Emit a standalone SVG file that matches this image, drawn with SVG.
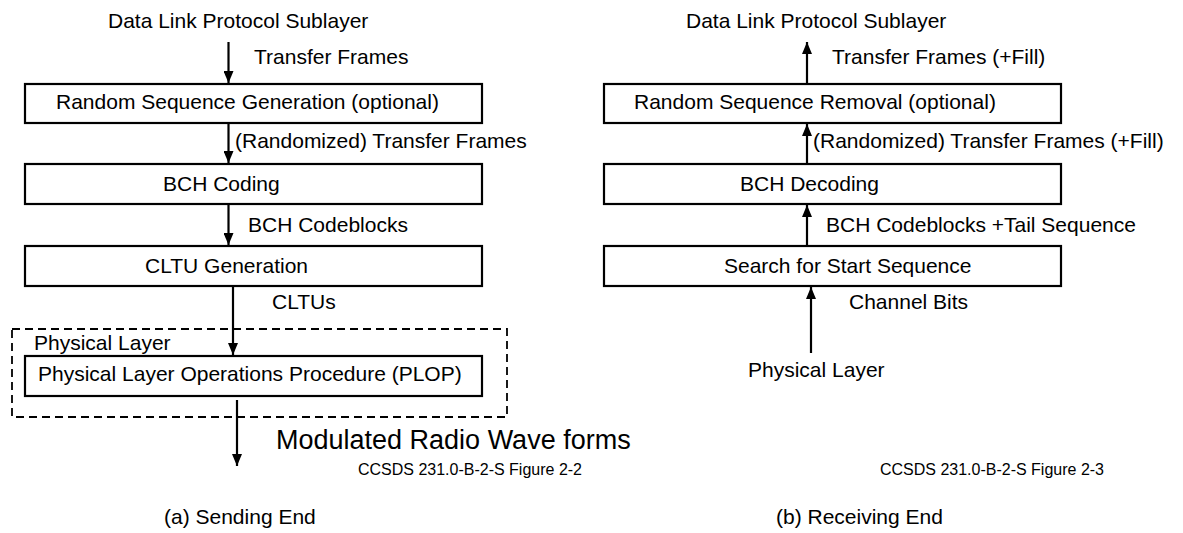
<svg xmlns="http://www.w3.org/2000/svg" width="1183" height="533" viewBox="0 0 1183 533">
  <style>
    text { font-family: "Liberation Sans", Arial, sans-serif; font-size: 21px; fill: #000; }
    .big { font-size: 27px; }
    .ref { font-size: 16px; }
    .box { fill: #fff; stroke: #000; stroke-width: 2.2; }
    .layer { fill: none; stroke: #000; stroke-width: 1.8; stroke-dasharray: 8 5; }
    .flow { stroke: #000; stroke-width: 2.2; fill: none; marker-end: url(#head); }
  </style>
  <defs>
    <marker id="head" viewBox="0 0 12 10" markerWidth="12" markerHeight="10" refX="12" refY="5" orient="auto" markerUnits="userSpaceOnUse">
      <path d="M0,0 L12,5 L0,10 z" fill="#000"/>
    </marker>
  </defs>

  <rect width="1183" height="533" fill="#fff"/>

  <!-- (a) sending end -->
  <text id="send-top" x="108" y="28">Data Link Protocol Sublayer</text>

  <g id="physical-layer-send">
    <rect class="layer" x="12" y="329" width="495" height="88"/>
    <text x="34" y="350">Physical Layer</text>
  </g>

  <g id="random-gen">
    <rect class="box" x="25" y="84" width="457" height="39"/>
    <text x="56" y="109">Random Sequence Generation (optional)</text>
  </g>
  <g id="bch-coding">
    <rect class="box" x="25" y="164" width="457" height="40"/>
    <text x="163" y="191">BCH Coding</text>
  </g>
  <g id="cltu-gen">
    <rect class="box" x="25" y="246" width="457" height="40"/>
    <text x="145" y="273">CLTU Generation</text>
  </g>
  <g id="plop">
    <rect class="box" x="25" y="356" width="457" height="40"/>
    <text x="38" y="381">Physical Layer Operations Procedure (PLOP)</text>
  </g>

  <g id="send-connectors">
    <line class="flow" x1="228.5" y1="42" x2="228.5" y2="83"/>
    <line class="flow" x1="228.5" y1="124" x2="228.5" y2="163"/>
    <line class="flow" x1="228.5" y1="205" x2="228.5" y2="245"/>
    <line class="flow" x1="233" y1="287" x2="233" y2="355"/>
    <line class="flow" x1="237" y1="400" x2="237" y2="466"/>
  </g>

  <g id="send-labels">
    <text x="254" y="64">Transfer Frames</text>
    <text x="235" y="148">(Randomized) Transfer Frames</text>
    <text x="248" y="232">BCH Codeblocks</text>
    <text x="272" y="309">CLTUs</text>
    <text class="big" x="276" y="449">Modulated Radio Wave forms</text>
    <text class="ref" x="358" y="475" textLength="224" lengthAdjust="spacingAndGlyphs">CCSDS 231.0-B-2-S Figure 2-2</text>
    <text x="164" y="524">(a) Sending End</text>
  </g>

  <!-- (b) receiving end -->
  <text id="recv-top" x="686" y="28">Data Link Protocol Sublayer</text>

  <g id="random-rem">
    <rect class="box" x="604" y="84" width="457" height="39"/>
    <text x="634" y="109">Random Sequence Removal (optional)</text>
  </g>
  <g id="bch-decoding">
    <rect class="box" x="604" y="164" width="457" height="40"/>
    <text x="740" y="191">BCH Decoding</text>
  </g>
  <g id="start-search">
    <rect class="box" x="604" y="246" width="457" height="40"/>
    <text x="724" y="273">Search for Start Sequence</text>
  </g>
  <text id="recv-bottom" x="748" y="377">Physical Layer</text>

  <g id="recv-connectors">
    <line class="flow" x1="807" y1="83" x2="807" y2="42"/>
    <line class="flow" x1="807" y1="164" x2="807" y2="124"/>
    <line class="flow" x1="807" y1="246" x2="807" y2="205"/>
    <line class="flow" x1="811" y1="353" x2="811" y2="287"/>
  </g>

  <g id="recv-labels">
    <text x="832" y="64">Transfer Frames (+Fill)</text>
    <text x="813" y="148">(Randomized) Transfer Frames (+Fill)</text>
    <text x="826" y="232">BCH Codeblocks +Tail Sequence</text>
    <text x="849" y="309">Channel Bits</text>
    <text class="ref" x="880" y="475" textLength="224" lengthAdjust="spacingAndGlyphs">CCSDS 231.0-B-2-S Figure 2-3</text>
    <text x="776" y="524">(b) Receiving End</text>
  </g>
</svg>
